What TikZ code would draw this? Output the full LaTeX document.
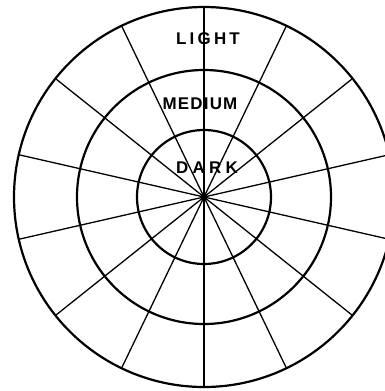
\documentclass[tikz,border=0pt]{standalone}
\usepackage{fontspec}
\setsansfont{Liberation Sans}
\usetikzlibrary{positioning}

\begin{document}
\begin{tikzpicture}[x=1bp, y=-1bp,
    ring/.style={draw=black, line width=2.2bp},
    spoke/.style={draw=black, line width=1.3bp},
    shadelabel/.style={font=\sffamily\bfseries\fontsize{17}{17}\selectfont\addfontfeatures{LetterSpace=#1}, inner sep=0pt}
]
\useasboundingbox (0,0) rectangle (385,391);
\clip (0,0) rectangle (385,391);

\coordinate (c) at (204,197);

% fourteen spokes from the centre
\foreach \k in {0,...,13} {
  \path (c) ++ ({90+\k*360/14}:190) coordinate (s\k);
  \draw[spoke] (c) -- (s\k);
}

% the three rings
\draw[ring] (c) circle[radius=67];
\draw[ring] (c) circle[radius=127];
\draw[ring] (c) circle[radius=190];
\fill (c) circle[radius=3];

\node[shadelabel=19] (light) at (208,39) {LIGHT};
\node[shadelabel=7] (medium) at (200,104) {MEDIUM};
\node[shadelabel=25] (dark) at (207,168) {DARK};
\end{tikzpicture}
\end{document}
